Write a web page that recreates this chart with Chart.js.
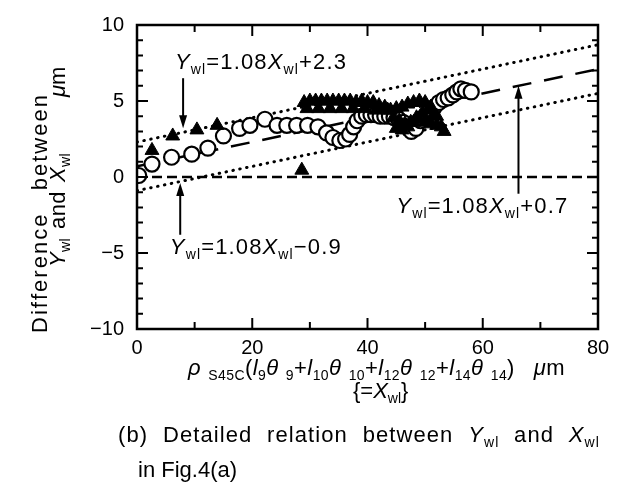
<!DOCTYPE html>
<html>
<head>
<meta charset="utf-8">
<script src="https://cdn.jsdelivr.net/npm/chart.js@4.4.1/dist/chart.umd.min.js"></script>
<style>
  html, body { margin: 0; padding: 0; background: #fff; }
  #wrap { width: 618px; height: 486px; }
</style>
</head>
<body>
<div id="wrap"><canvas id="chart" width="618" height="486"></canvas></div>
<script>
// open circles
const circleX = [0.3, 2.6, 6, 9.5, 12.3, 15, 17.8, 19.6, 22.2, 24.3, 26, 27.7, 29.6, 31.4, 32.9, 34, 35.2, 36.2,
  36.9, 37.6, 38.2, 39, 39.8, 40.6, 41.4, 42.2, 43, 43.8, 44.6, 45.4, 46.2, 46.9, 47.6, 48.4, 49.2, 50, 50.8,
  51.6, 52.4, 53.2, 54, 54.8, 55.5, 56.2, 57, 58];
const circleY = [0.1, 0.85, 1.3, 1.5, 1.9, 2.7, 3.2, 3.4, 3.8, 3.4, 3.4, 3.4, 3.4, 3.3, 2.9, 2.6, 2.4, 2.5,
  2.8, 3.3, 3.7, 4.0, 4.1, 4.1, 4.1, 4.0, 4.0, 4.0, 3.9, 3.8, 3.6, 3.3, 3.0, 3.2, 3.7, 4.0, 4.3,
  4.6, 4.9, 5.1, 5.2, 5.4, 5.6, 5.8, 5.7, 5.6];
// filled triangles
const triangleX = [2.6, 6.2, 10.4, 13.9, 28.6,
  29, 30, 31, 32, 33, 34, 35, 36, 37, 38, 39, 40, 41, 42, 43,
  29.5, 31.5, 33.5, 35.5, 37.5, 39.5, 41.5, 43.5,
  44, 45, 46, 47, 48, 49, 50, 51, 52, 52.8,
  44.5, 45.5, 46.5, 47.5, 48.5, 49.5, 50.5, 51.5, 53.3,
  45, 46, 47, 48, 49, 50, 51, 52];
const triangleY = [1.75, 2.7, 3.1, 3.4, 0.45,
  4.9, 5.0, 5.0, 5.0, 5.0, 5.0, 5.0, 5.0, 5.0, 4.9, 5.0, 4.9, 4.9, 4.7, 4.6,
  4.5, 4.5, 4.5, 4.5, 4.5, 4.5, 4.4, 4.4,
  4.4, 4.5, 4.6, 4.8, 4.9, 5.0, 4.9, 4.6, 4.0, 3.3,
  3.9, 3.7, 3.5, 3.6, 3.9, 4.2, 4.4, 4.1, 3.0,
  3.2, 3.1, 3.3, 3.6, 3.8, 3.6, 3.5, 3.4];
// fitted lines (difference = 0.08 X + c)
const fitX = [0, 80];
const upperFitY = [2.3, 8.7];
const middleFitY = [0.7, 7.1];
const lowerFitY = [-0.9, 5.5];
const zeroY = [0, 0];

const FONT = '"Liberation Sans", Arial, Helvetica, sans-serif';

function pts(xs, ys) {
    return xs.map((x, i) => ({ x: x, y: ys[i] }));
}

// text runs: n = normal, i = italic, s = subscript
function runFont(r, size) {
    if (r.s === 'i') return 'italic ' + size + 'px ' + FONT;
    if (r.s === 's') return Math.round(size * 0.64) + 'px ' + FONT;
    return size + 'px ' + FONT;
}
function R(t, s) { return { t: t, s: s || 'n' }; }

// draws runs char by char, spread out to fill the given width (spaces take most of the slack)
function drawRuns(ctx, runs, x, y, size, width) {
    const SP = 8;
    let natural = 0, weight = 0;
    runs.forEach(r => {
        ctx.font = runFont(r, size);
        for (const ch of r.t) {
            natural += ctx.measureText(ch).width;
            weight += ch === ' ' ? SP : 1;
        }
    });
    const unit = width ? Math.max(0, (width - natural) / weight) : 0;
    let cx = x;
    ctx.textAlign = 'left';
    ctx.textBaseline = 'alphabetic';
    ctx.fillStyle = '#000';
    runs.forEach(r => {
        ctx.font = runFont(r, size);
        for (const ch of r.t) {
            ctx.fillText(ch, cx, r.s === 's' ? y + size * 0.22 : y);
            cx += ctx.measureText(ch).width + unit * (ch === ' ' ? SP : 1);
        }
    });
}

function eqRuns(tail) {
    return [R('Y', 'i'), R('wl', 's'), R('=1.08'), R('X', 'i'), R('wl', 's'), R(tail)];
}

function arrow(ctx, x, y1, y2) {
    const dir = y2 > y1 ? 1 : -1;
    ctx.beginPath();
    ctx.moveTo(x, y1);
    ctx.lineTo(x, y2 - dir * 8);
    ctx.lineWidth = 2;
    ctx.strokeStyle = '#000';
    ctx.stroke();
    ctx.beginPath();
    ctx.moveTo(x, y2);
    ctx.lineTo(x - 4, y2 - dir * 13);
    ctx.lineTo(x + 4, y2 - dir * 13);
    ctx.closePath();
    ctx.fillStyle = '#000';
    ctx.fill();
}

const decor = {
    id: 'decor',
    afterDraw(chart) {
        const ctx = chart.ctx;
        const a = chart.chartArea;
        const sx = chart.scales.x, sy = chart.scales.y;
        ctx.save();

        // frame
        ctx.lineWidth = 2.5;
        ctx.strokeStyle = '#000';
        ctx.strokeRect(a.left, a.top, a.right - a.left, a.bottom - a.top);

        // inward ticks
        ctx.lineWidth = 2;
        for (let v = 0; v <= 80; v += 10) {
            const px = sx.getPixelForValue(v);
            const len = v % 20 === 0 ? 11 : 7;
            ctx.beginPath();
            ctx.moveTo(px, a.bottom); ctx.lineTo(px, a.bottom - len);
            ctx.moveTo(px, a.top); ctx.lineTo(px, a.top + len);
            ctx.stroke();
        }
        for (let v = -10; v <= 10; v += 1) {
            const py = sy.getPixelForValue(v);
            const len = v % 5 === 0 ? 11 : 6;
            ctx.beginPath();
            ctx.moveTo(a.left, py); ctx.lineTo(a.left + len, py);
            ctx.moveTo(a.right, py); ctx.lineTo(a.right - len, py);
            ctx.stroke();
        }

        // arrows
        arrow(ctx, sx.getPixelForValue(8), sy.getPixelForValue(6.5), sy.getPixelForValue(3.2));
        arrow(ctx, sx.getPixelForValue(7.5), sy.getPixelForValue(-3.8), sy.getPixelForValue(-0.4));
        arrow(ctx, sx.getPixelForValue(66.2), sy.getPixelForValue(-1.1), sy.getPixelForValue(6.0));

        // equation labels
        drawRuns(ctx, eqRuns('+2.3'), sx.getPixelForValue(6.6), sy.getPixelForValue(7.1), 22, 172);
        drawRuns(ctx, eqRuns('\u22120.9'), sx.getPixelForValue(5.7), sy.getPixelForValue(-5.05), 22, 172);
        drawRuns(ctx, eqRuns('+0.7'), sx.getPixelForValue(45), sy.getPixelForValue(-2.4), 22, 172);

        // y axis title (rotated)
        ctx.save();
        ctx.translate(47, 333);
        ctx.rotate(-Math.PI / 2);
        drawRuns(ctx, [R('Difference between')], 0, 0, 22, 240);
        ctx.restore();
        ctx.save();
        ctx.translate(65, 267);
        ctx.rotate(-Math.PI / 2);
        drawRuns(ctx, [R('Y', 'i'), R('wl', 's'), R(' and '), R('X', 'i'), R('wl', 's')], 0, 0, 22, 114);
        drawRuns(ctx, [R('\u03bc', 'i'), R('m')], 170, 0, 22, 30);
        ctx.restore();

        // x axis title
        const xt = [R('\u03c1', 'i'), R(' S45C', 's'), R('('), R('l', 'i'), R('9', 's'), R('\u03b8', 'i'), R(' 9', 's'),
            R('+'), R('l', 'i'), R('10', 's'), R('\u03b8', 'i'), R(' 10', 's'),
            R('+'), R('l', 'i'), R('12', 's'), R('\u03b8', 'i'), R(' 12', 's'),
            R('+'), R('l', 'i'), R('14', 's'), R('\u03b8', 'i'), R(' 14', 's'), R(')  '),
            R('\u03bc', 'i'), R('m')];
        drawRuns(ctx, xt, 188, 375, 22, 377);
        drawRuns(ctx, [R('{='), R('X', 'i'), R('wl', 's'), R('}')], 353, 398, 22, 54);

        // caption
        drawRuns(ctx, [R('(b) Detailed relation between '), R('Y', 'i'), R('wl', 's'), R(' and '), R('X', 'i'), R('wl', 's')], 118, 442, 22, 482);
        drawRuns(ctx, [R('in Fig.4(a)')], 138, 477, 22, 97);

        ctx.restore();
    }
};

new Chart(document.getElementById('chart'), {
    type: 'scatter',
    data: {
        datasets: [
            {
                label: 'triangles',
                data: pts(triangleX, triangleY),
                pointStyle: 'triangle',
                pointRadius: 8,
                pointBorderWidth: 1,
                pointBackgroundColor: '#000',
                pointBorderColor: '#000'
            },
            {
                label: 'circles',
                data: pts(circleX, circleY),
                pointStyle: 'circle',
                pointRadius: 7.5,
                pointBorderWidth: 2.2,
                pointBackgroundColor: '#fff',
                pointBorderColor: '#000'
            },
            {
                label: 'upper',
                data: pts(fitX, upperFitY),
                showLine: true, pointRadius: 0,
                borderColor: '#000', borderWidth: 3,
                borderDash: [0.5, 6.5], borderCapStyle: 'round'
            },
            {
                label: 'middle',
                data: pts(fitX, middleFitY),
                showLine: true, pointRadius: 0,
                borderColor: '#000', borderWidth: 2.5,
                borderDash: [19, 13]
            },
            {
                label: 'lower',
                data: pts(fitX, lowerFitY),
                showLine: true, pointRadius: 0,
                borderColor: '#000', borderWidth: 3,
                borderDash: [0.5, 6.5], borderCapStyle: 'round'
            },
            {
                label: 'zero',
                data: pts(fitX, zeroY),
                showLine: true, pointRadius: 0,
                borderColor: '#000', borderWidth: 2.5,
                borderDash: [10, 5]
            }
        ]
    },
    options: {
        responsive: false,
        animation: false,
        layout: { padding: { left: 37, top: 20, right: 20, bottom: 117 } },
        plugins: {
            legend: { display: false },
            tooltip: { enabled: false }
        },
        scales: {
            x: {
                type: 'linear', min: 0, max: 80,
                grid: { display: false, drawTicks: false },
                border: { display: false },
                ticks: { stepSize: 20, autoSkip: false, maxRotation: 0, padding: 7, color: '#000',
                    font: { family: FONT, size: 20 } },
                afterFit: s => { s.height = 40; }
            },
            y: {
                type: 'linear', min: -10, max: 10,
                grid: { display: false, drawTicks: false },
                border: { display: false },
                ticks: { stepSize: 5, autoSkip: false, padding: 13, color: '#000',
                    font: { family: FONT, size: 20 },
                    callback: v => v < 0 ? '\u2212' + Math.abs(v) : String(v) },
                afterFit: s => { s.width = 100; }
            }
        }
    },
    plugins: [decor]
});
</script>
</body>
</html>
